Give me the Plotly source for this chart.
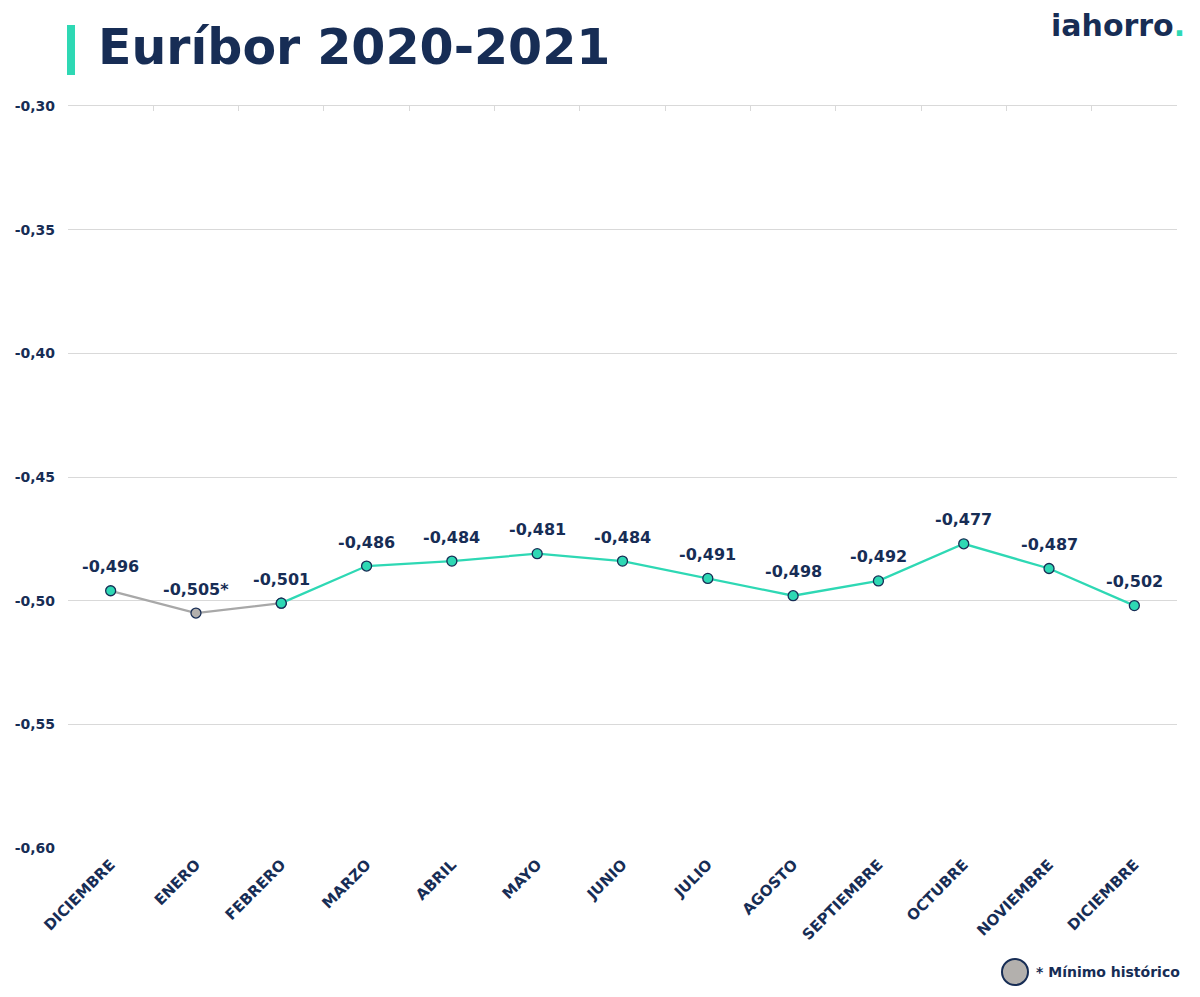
import plotly.graph_objects as go

months = ["DICIEMBRE", "ENERO", "FEBRERO", "MARZO", "ABRIL", "MAYO", "JUNIO",
          "JULIO", "AGOSTO", "SEPTIEMBRE", "OCTUBRE", "NOVIEMBRE", "DICIEMBRE"]
euribor = [-0.496, -0.505, -0.501, -0.486, -0.484, -0.481, -0.484,
           -0.491, -0.498, -0.492, -0.477, -0.487, -0.502]
historic_min_index = 1
y_ticks = [-0.30, -0.35, -0.40, -0.45, -0.50, -0.55, -0.60]
y_tick_labels = ["-0,30", "-0,35", "-0,40", "-0,45", "-0,50", "-0,55", "-0,60"]

NAVY = "#172d55"
TEAL = "#2ed8b4"
GRAY_LINE = "#a8a8a8"
GRAY_MARK = "#b3b0ad"
GRID = "#d9d9d9"
FONT = "DejaVu Sans"

x = list(range(len(months)))

def fmt(v):
    return f"{v:.3f}".replace(".", ",")

labels = [fmt(v) + ("*" if i == historic_min_index else "") for i, v in enumerate(euribor)]

fig = go.Figure()

# gray segment (around historic minimum)
seg1 = list(range(0, 3))
fig.add_trace(go.Scatter(
    x=seg1, y=[euribor[i] for i in seg1], mode="lines+markers",
    line=dict(color=GRAY_LINE, width=2.3),
    marker=dict(size=10, color=[GRAY_MARK if i == historic_min_index else TEAL for i in seg1],
                line=dict(color=NAVY, width=1.3)),
    showlegend=False, hoverinfo="skip"))

# teal segment
seg2 = list(range(2, len(months)))
fig.add_trace(go.Scatter(
    x=seg2, y=[euribor[i] for i in seg2], mode="lines+markers",
    line=dict(color=TEAL, width=2.3),
    marker=dict(size=10, color=TEAL, line=dict(color=NAVY, width=1.3)),
    showlegend=False, hoverinfo="skip"))

# invisible trace on top axis
fig.add_trace(go.Scatter(x=[None], y=[None], xaxis="x2", showlegend=False, hoverinfo="skip"))

for i, v in enumerate(euribor):
    fig.add_annotation(x=i, y=v, text=labels[i], showarrow=False, yshift=24,
                       font=dict(family=FONT, size=16, color=NAVY, weight="bold"))

# title
fig.add_annotation(xref="paper", yref="paper", x=0, y=1.0, xshift=28, yshift=59,
                   text="Euríbor 2020-2021", showarrow=False, xanchor="left", yanchor="middle",
                   font=dict(family=FONT, size=49, color=NAVY, weight="bold"))
fig.add_shape(type="rect", xref="paper", yref="paper",
              xsizemode="pixel", xanchor=0, x0=-1, x1=7,
              ysizemode="pixel", yanchor=1, y0=31, y1=81,
              line=dict(width=0), fillcolor=TEAL)
# logo
fig.add_annotation(xref="paper", yref="paper", x=1.0, y=1.0, xshift=10, yshift=81,
                   text="iahorro<span style='color:%s'>.</span>" % TEAL, showarrow=False,
                   xanchor="right", yanchor="middle",
                   font=dict(family=FONT, size=30, color=NAVY, weight="bold"))

# legend (historic minimum key)
fig.add_shape(type="circle", xref="paper", yref="paper",
              xsizemode="pixel", xanchor=1, x0=-175, x1=-149,
              ysizemode="pixel", yanchor=0, y0=-137, y1=-111,
              line=dict(color=NAVY, width=2), fillcolor=GRAY_MARK)
fig.add_annotation(xref="paper", yref="paper", x=1.0, y=0, xshift=5, yshift=-124,
                   text="* Mínimo histórico", showarrow=False,
                   xanchor="right", yanchor="middle",
                   font=dict(family=FONT, size=14, color=NAVY, weight="bold"))

fig.update_layout(
    width=1192, height=989,
    margin=dict(l=60, r=23, t=98, b=149),
    paper_bgcolor="white", plot_bgcolor="white",
    showlegend=False,
    font=dict(family=FONT, color=NAVY),
    xaxis=dict(range=[-0.5, len(months) - 0.5], tickvals=x, ticktext=months,
               tickangle=-45, showgrid=False, zeroline=False, showline=False,
               ticks="", ticklabelstandoff=4, automargin=False,
               tickfont=dict(family=FONT, size=15, color=NAVY, weight="bold")),
    xaxis2=dict(range=[-0.5, len(months) - 0.5], overlaying="x", side="top",
                tickvals=[i - 0.5 for i in range(len(months) + 1)],
                ticks="inside", ticklen=5, tickcolor=GRID, tickwidth=1,
                showline=True, linecolor=GRID, linewidth=1, automargin=False,
                showticklabels=False, showgrid=False, zeroline=False),
    yaxis=dict(range=[-0.60, -0.30], tickvals=y_ticks, ticktext=y_tick_labels,
               showgrid=True, gridcolor=GRID, gridwidth=1, zeroline=False,
               ticks="", ticklabelstandoff=12, automargin=False,
               tickfont=dict(family=FONT, size=14, color=NAVY, weight="bold")),
)

fig.write_html("out.html")
